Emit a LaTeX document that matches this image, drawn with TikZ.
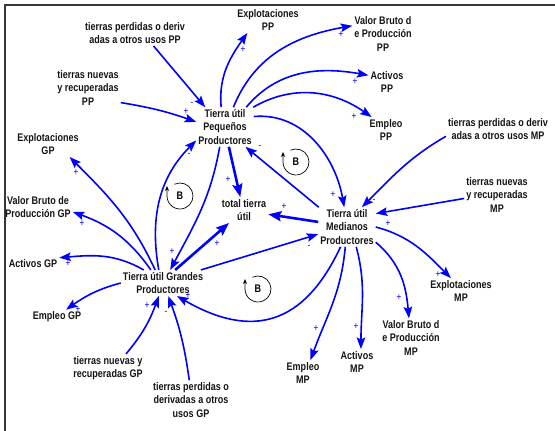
\documentclass[tikz,border=0pt]{standalone}
\usepackage{fontspec}
\newfontfamily\diagfont{Liberation Sans}[FakeStretch=0.82]
\usetikzlibrary{arrows.meta}
\definecolor{flowblue}{RGB}{0,0,255}
\definecolor{ink}{RGB}{20,20,20}
\tikzset{
  >={Stealth[length=11.5pt,width=8.5pt,inset=2pt]},
  var/.style={font=\diagfont\bfseries\fontsize{11}{13.5}\selectfont,align=center,inner sep=2pt,text=ink},
  flow/.style={->,draw=flowblue,line width=1.6pt},
  bigflow/.style={-{Stealth[length=13pt,width=10pt,inset=2pt]},draw=flowblue,line width=2.6pt},
  sign/.style={font=\diagfont\fontsize{10}{10}\selectfont,text=flowblue,inner sep=0pt},
  loopsym/.style={font=\diagfont\bfseries\fontsize{11}{13}\selectfont,inner sep=0pt},
  loopline/.style={-{Stealth[length=5pt,width=4pt]},draw=black,line width=0.7pt},
}

\begin{document}
\begin{tikzpicture}[x=1pt,y=1pt]
  \useasboundingbox (0,0) rectangle (555,-431);
  \draw[ink!85,line width=1.4pt] (5,-431) -- (5,-5) -- (555,-5);
  % stocks
  \node[var] (pp) at (225,-127) {Tierra útil\\Pequeños\\Productores};
  \node[var] (mp) at (347,-227) {Tierra útil\\Medianos\\Productores};
  \node[var] (gp) at (163,-283) {Tierra útil Grandes\\Productores};
  \node[var] (total) at (244,-210) {total tierra\\útil};
  % small producers
  \node[var] (tppp) at (135,-33) {tierras perdidas o deriv\\adas a otros usos PP};
  \node[var] (tnpp) at (88,-88) {tierras nuevas\\y recuperadas\\PP};
  \node[var] (expp) at (268,-20) {Explotaciones\\PP};
  \node[var] (vbpp) at (383,-34) {Valor Bruto d\\e Producción\\PP};
  \node[var] (acpp) at (387,-82) {Activos\\PP};
  \node[var] (empp) at (386,-130) {Empleo\\PP};
  % medium producers
  \node[var] (tpmp) at (498,-129) {tierras perdidas o deriv\\adas a otros usos MP};
  \node[var] (tnmp) at (497,-195) {tierras nuevas\\y recuperadas\\MP};
  \node[var] (exmp) at (461,-291) {Explotaciones\\MP};
  \node[var] (vbmp) at (411,-338) {Valor Bruto d\\e Producción\\MP};
  \node[var] (acmp) at (357,-362) {Activos\\MP};
  \node[var] (emmp) at (303,-373) {Empleo\\MP};
  % large producers
  \node[var] (exgp) at (48,-144) {Explotaciones\\GP};
  \node[var] (vbgp) at (38,-207) {Valor Bruto de\\Producción GP};
  \node[var] (acgp) at (33,-264) {Activos GP};
  \node[var] (emgp) at (57,-317) {Empleo GP};
  \node[var] (tngp) at (108,-368) {tierras nuevas y\\recuperadas GP};
  \node[var] (tpgp) at (191,-400) {tierras perdidas o\\derivadas a otros\\usos GP};
  % links from PP
  \draw[flow] (pp.101) to[out=95,in=235] (expp.212);
  \draw[flow] (pp.67) to[out=68,in=190] (vbpp.165);
  \draw[flow] (pp.43) to[out=50,in=170] (acpp.160);
  \draw[flow] (pp.35) to[out=30,in=145] (empp.138);
  \draw[flow] (pp.20) to[out=5,in=100] (mp.98);
  \draw[bigflow] (pp.281) -- (total.106);
  \draw[flow] (pp.255) to[out=260,in=62] (gp.61);
  \draw[flow] (tppp.325) -- (pp.135);
  \draw[flow] (tnpp.336) to[bend left=5] (pp.170);
  % links from GP
  \draw[flow] (gp.108) to[out=100,in=225] (pp.205);
  \draw[flow] (gp.121) to[out=115,in=315] (exgp.329);
  \draw[flow] (gp.133) to[out=125,in=340] (vbgp.352);
  \draw[flow] (gp.146) to[out=150,in=5] (acgp.north east);
  \draw[flow] (gp.180) to[out=195,in=35] (emgp.39);
  \draw[bigflow] (gp.47) -- (total.221);
  \draw[flow] (gp.19) -- (mp.194);
  \draw[flow] (tngp.38) to[out=50,in=250] (gp.252);
  \draw[flow] (tpgp.95) to[out=98,in=290] (gp.292);
  % links from MP
  \draw[flow] (mp.145) -- (pp.316);
  \draw[flow] (mp.252) to[out=245,in=330,looseness=1.3] (gp.317);
  \draw[bigflow] (mp.170) -- (total.350);
  \draw[flow] (mp.0) to[out=345,in=135] (exmp.128);
  \draw[flow] (mp.332) to[out=320,in=95] (vbmp.96);
  \draw[flow] (mp.295) to[out=285,in=90] (acmp.73);
  \draw[flow] (mp.265) to[out=265,in=70] (emmp.60);
  \draw[flow] (tpmp.188) to[out=210,in=45] (mp.53);
  \draw[flow] (tnmp.186) -- (mp.25);
  % polarities
  \foreach \x/\y/\s [count=\k] in {243/50/+,341/35/+,355/82/+,354/117/+,333/195/+,228/180/+,
      172/252/+,192/104/-,186/112/+,260/147/-,189/155/-,76/173/+,82/224/+,68/264/+,78/310/+,
      217/244/+,309/247/-,188/296/+,147/306/+,166/313/-,284/207/+,438/275/+,399/298/+,
      356/327/+,316/329/+,374/201/-,388/224/+}
    \node[sign] (pol\k) at (\x,-\y) {\s};
  % balancing loops
  \foreach \x/\y [count=\k] in {180/196,296/162,258/289}{
    \node[loopsym] (loop\k) at (\x,-\y) {B};
    \draw[loopline] (loop\k.center) ++(115:13) arc (115:-180:13) -- ++(0,10);
  }
\end{tikzpicture}
\end{document}
